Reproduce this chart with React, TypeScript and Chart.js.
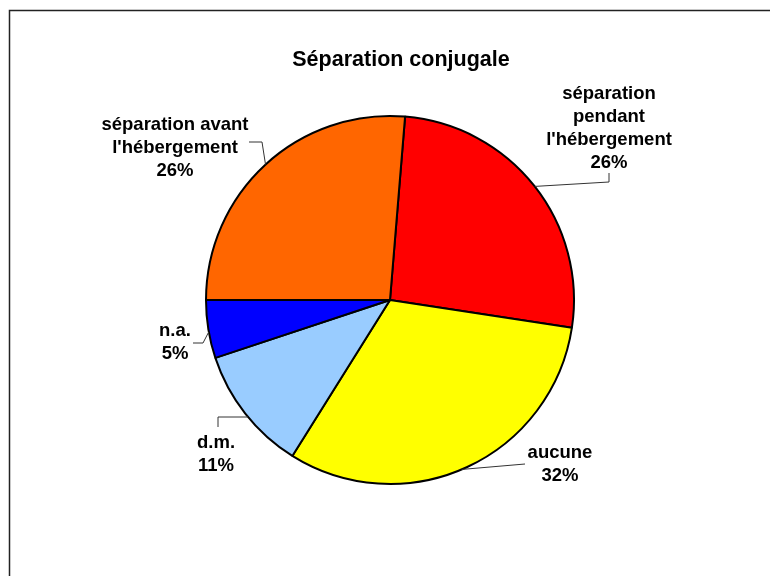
import React, { useEffect, useRef } from "react";
import { Chart, registerables } from "chart.js";

Chart.register(...registerables);

const TITLE = "Séparation conjugale";
const CATEGORIES = [
  "séparation\npendant\nl'hébergement",
  "aucune",
  "d.m.",
  "n.a.",
  "séparation avant\nl'hébergement",
];
const VALUES = [26.1, 31.5, 11.0, 5.1, 26.3];
const COLORS = ["#FF0000", "#FFFF00", "#99CCFF", "#0000FF", "#FF6600"];

// label placement relative to the pie centre (text centre x, first baseline y)
const LABEL_POS: [number, number][] = [
  [219, -201],
  [170, 158],
  [-174, 148],
  [-215, 36],
  [-215, -170],
];
// leader line elbows relative to the pie centre; last point is projected onto the rim
const LEADERS: [number, number][][] = [
  [[219, -127], [219, -118], [144, -113]],
  [[135, 164], [72, 170]],
  [[-172, 127], [-172, 117], [-142, 117]],
  [[-197, 43], [-187, 43], [-182, 32]],
  [[-141, -158], [-128, -158], [-124, -135]],
];

const FONT = '"Liberation Sans", Arial, sans-serif';

const overlay = {
  id: "overlay",
  afterDraw(chart: any) {
    const ctx = chart.ctx as CanvasRenderingContext2D;
    const meta = chart.getDatasetMeta(0);
    const arc0 = meta.data[0] as any;
    const cx = arc0.x;
    const cy = arc0.y;
    const r = arc0.outerRadius;
    ctx.save();
    // frame
    ctx.strokeStyle = "#222";
    ctx.lineWidth = 1.5;
    ctx.beginPath();
    ctx.moveTo(9.5, 580);
    ctx.lineTo(9.5, 10.5);
    ctx.lineTo(780, 10.5);
    ctx.stroke();
    // title
    ctx.fillStyle = "#000";
    ctx.font = `bold 21.5px ${FONT}`;
    ctx.textAlign = "center";
    ctx.textBaseline = "middle";
    ctx.fillText(TITLE, 401, 60);
    // leaders
    ctx.strokeStyle = "#333";
    ctx.lineWidth = 1;
    LEADERS.forEach((pts) => {
      ctx.beginPath();
      pts.forEach((p, i) => {
        let x = p[0];
        let y = p[1];
        if (i === pts.length - 1) {
          const d = Math.hypot(x, y);
          x = (x / d) * r;
          y = (y / d) * r;
        }
        if (i === 0) ctx.moveTo(cx + x, cy + y);
        else ctx.lineTo(cx + x, cy + y);
      });
      ctx.stroke();
    });
    // labels
    ctx.font = `bold 18.5px ${FONT}`;
    ctx.textBaseline = "alphabetic";
    ctx.fillStyle = "#000";
    CATEGORIES.forEach((cat, i) => {
      const lines = cat.split("\n").concat([Math.round(VALUES[i]) + "%"]);
      const [dx, dy] = LABEL_POS[i];
      lines.forEach((ln, j) => {
        ctx.fillText(ln, cx + dx, cy + dy + j * 23);
      });
    });
    ctx.restore();
  },
};

export default function App() {
  const ref = useRef<HTMLCanvasElement>(null);
  useEffect(() => {
    if (!ref.current) return;
    const chart = new Chart(ref.current, {
      type: "pie",
      data: {
        labels: CATEGORIES.map((c) => c.replace(/\n/g, " ")),
        datasets: [
          {
            data: VALUES,
            backgroundColor: COLORS,
            borderColor: "#000",
            borderWidth: 2,
          },
        ],
      },
      options: {
        responsive: false,
        animation: false,
        rotation: 4.7,
        layout: { padding: { left: 205, right: 195, top: 115, bottom: 91 } },
        plugins: {
          legend: { display: false },
          title: { display: false },
          tooltip: { enabled: false },
        },
      },
      plugins: [overlay],
    });
    return () => chart.destroy();
  }, []);
  return (
    <div style={{ position: "fixed", left: 0, top: 0, width: 770, height: 576, background: "#fff" }}>
      <canvas ref={ref} width={770} height={576} />
    </div>
  );
}
